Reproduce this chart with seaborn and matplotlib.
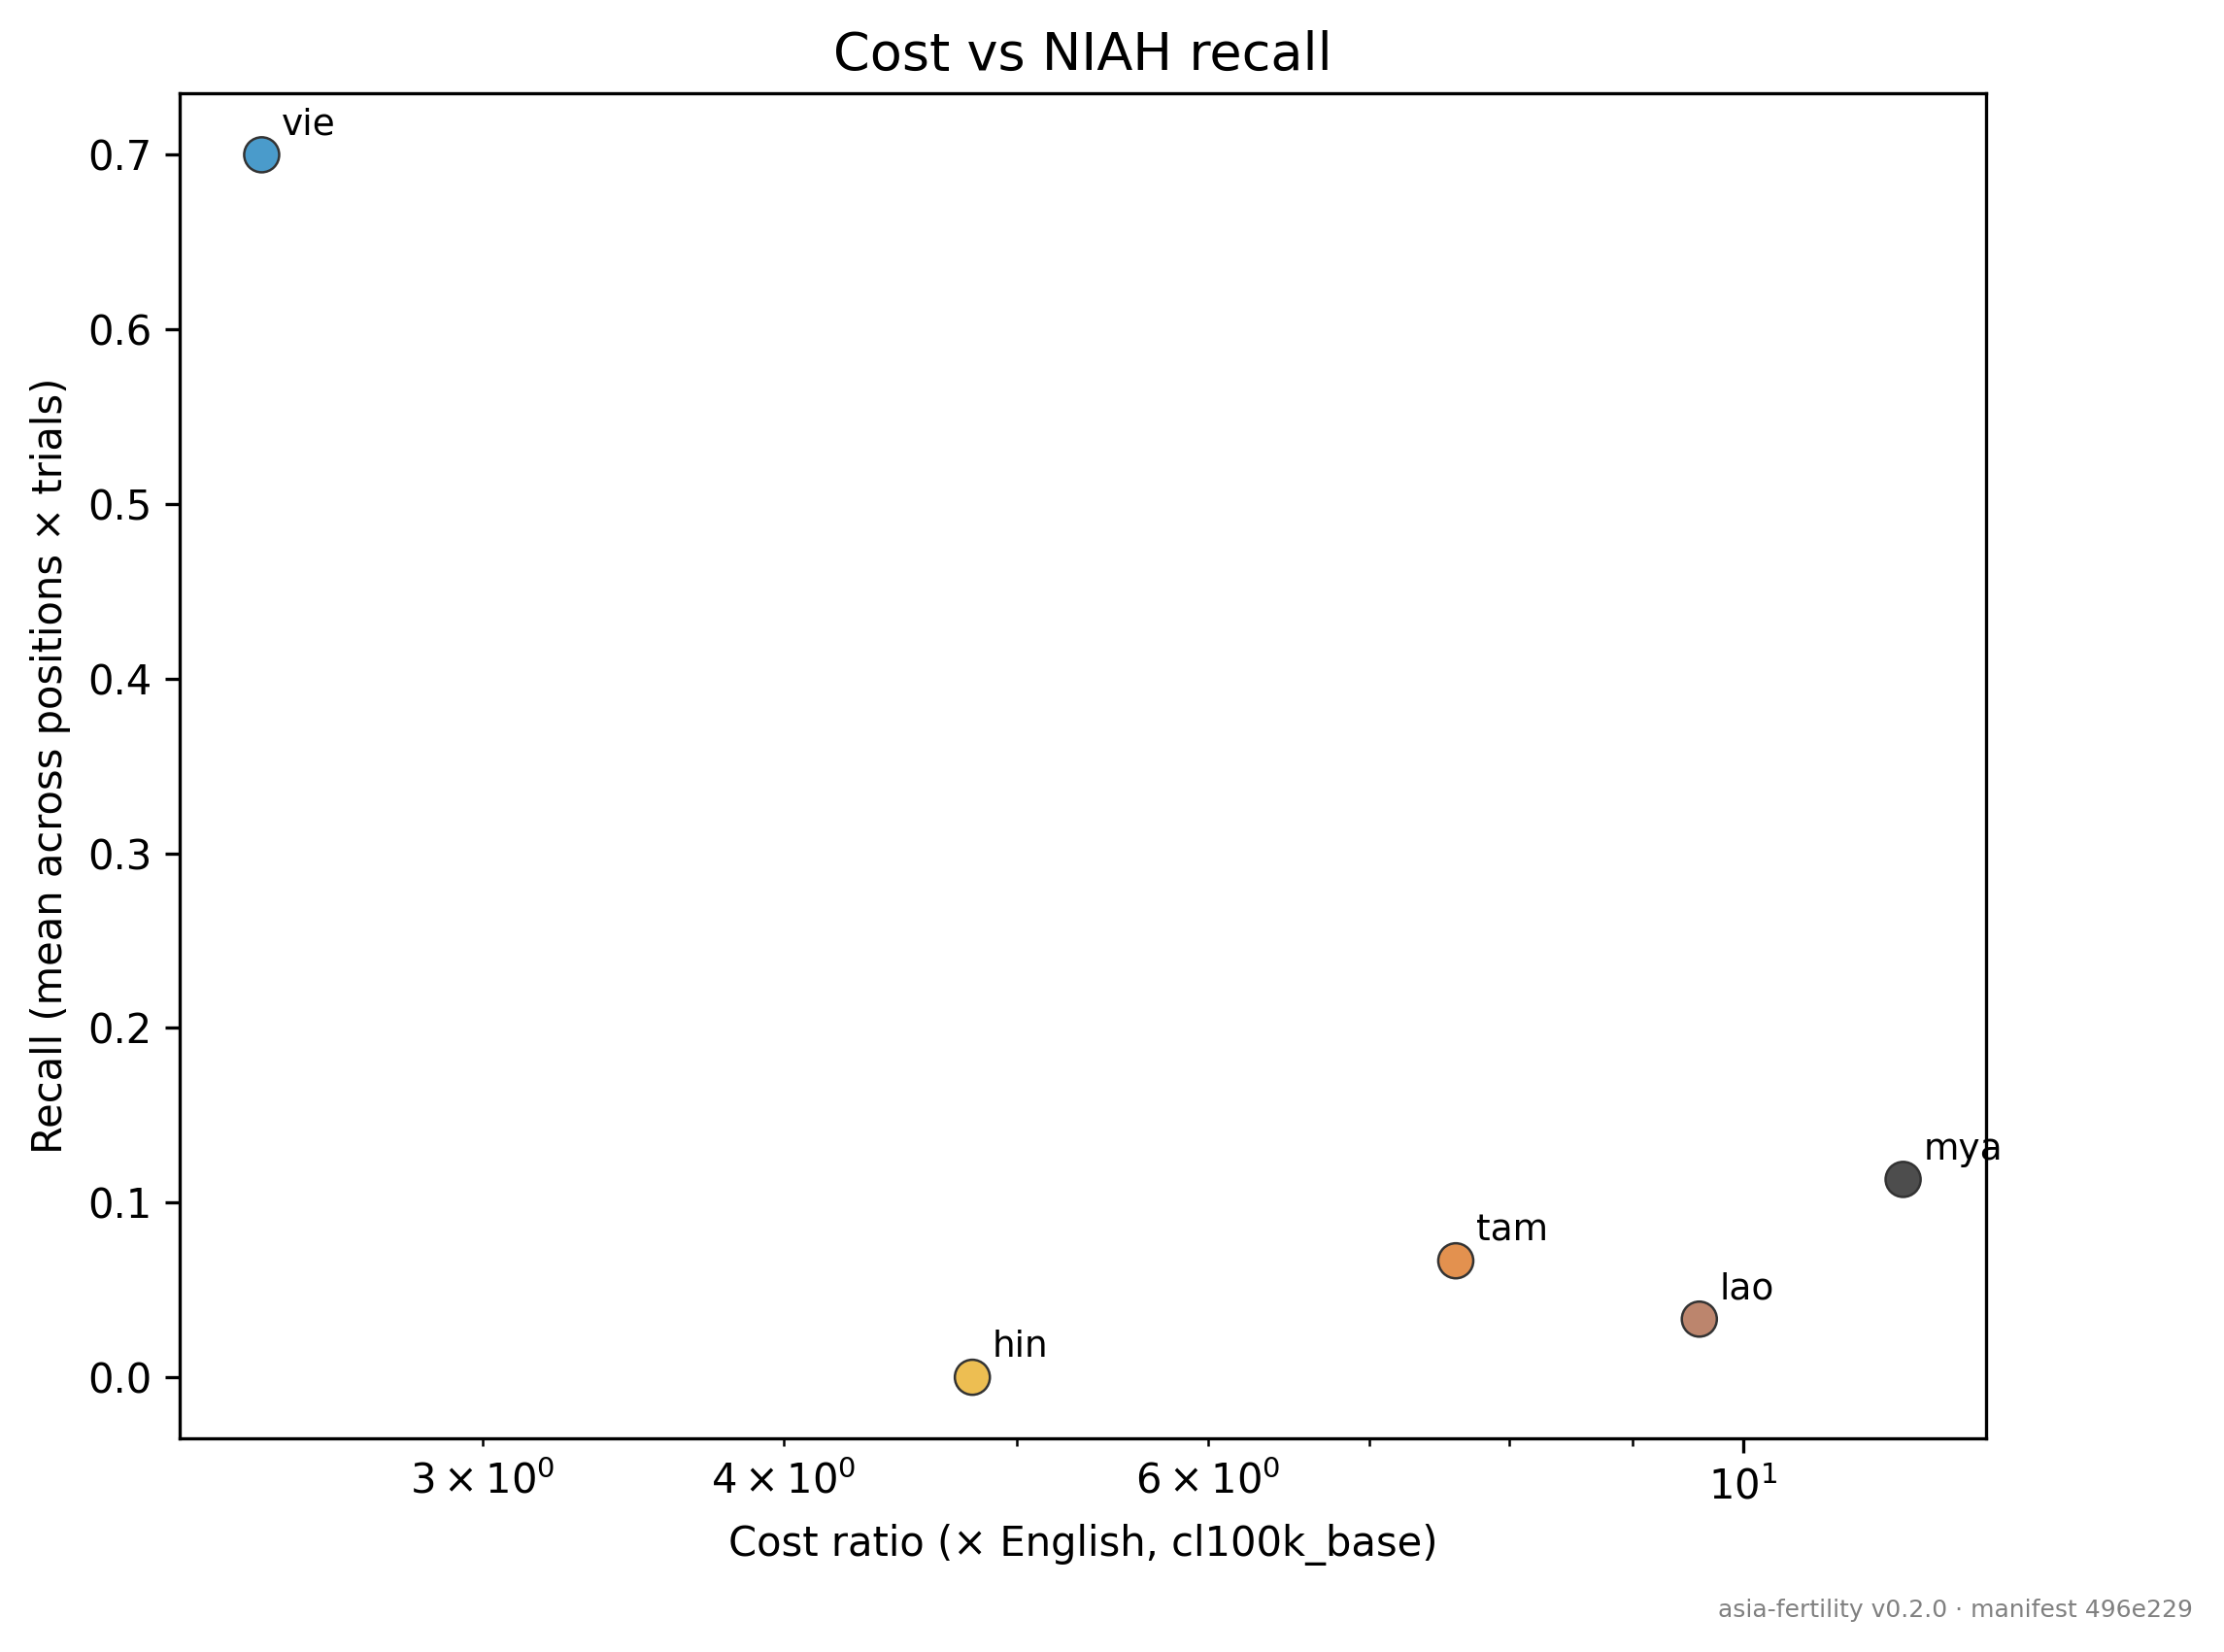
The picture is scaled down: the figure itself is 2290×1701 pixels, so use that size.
import matplotlib.pyplot as plt
import pandas as pd
import seaborn as sns

# data
languages = ["vie", "hin", "tam", "lao", "mya"]
cost_ratio = [2.43, 4.79, 7.60, 9.59, 11.65]
recall = [0.700, 0.000, 0.0667, 0.0333, 0.1133]
colors = ["#4A9BCB", "#EDBE52", "#E3914F", "#BC856D", "#4D4D4D"]

df = pd.DataFrame({"lang": languages, "cost": cost_ratio, "recall": recall})

fig = plt.figure(figsize=(2290 / 300, 1701 / 300), dpi=300)
ax = fig.add_axes([0.081, 0.1293, 0.812, 0.814])

sns.scatterplot(
    data=df,
    x="cost",
    y="recall",
    hue="lang",
    palette=dict(zip(languages, colors)),
    s=75,
    edgecolor="#333333",
    linewidth=0.6,
    legend=False,
    ax=ax,
)

for _, row in df.iterrows():
    ax.annotate(
        row["lang"],
        (row["cost"], row["recall"]),
        xytext=(5, 5),
        textcoords="offset points",
        fontsize=9,
    )

ax.set_xscale("log")
ax.set_xlim(2.248, 12.61)
ax.set_xlabel("Cost ratio (× English, cl100k_base)")
ax.set_ylabel("Recall (mean across positions × trials)")
ax.set_title("Cost vs NIAH recall", fontsize=13)

fig.text(0.986, 0.025, "asia-fertility v0.2.0 · manifest 496e229",
         ha="right", va="center", fontsize=6, color="gray")

fig.savefig("out.png", dpi=300)
